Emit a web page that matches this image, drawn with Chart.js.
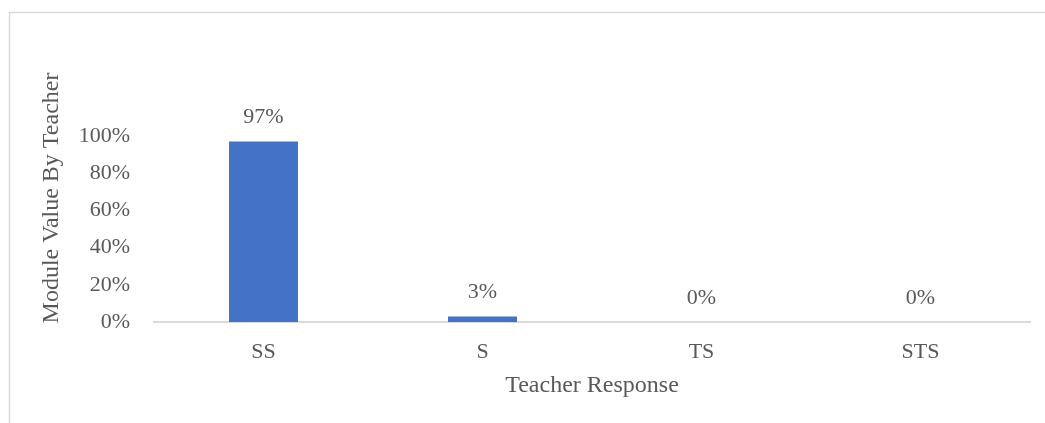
<!DOCTYPE html>
<html>
<head>
<meta charset="utf-8">
<script src="https://cdn.jsdelivr.net/npm/chart.js@4/dist/chart.umd.min.js"></script>
<style>
  html, body { margin: 0; padding: 0; background: #ffffff; }
  #wrap { width: 1045px; height: 423px; position: relative; }
</style>
</head>
<body>
<div id="wrap"><canvas id="c" width="1045" height="423"></canvas></div>
<script>
// Teacher responses and the share of each
const categories = ['SS', 'S', 'TS', 'STS'];
const shares = [0.97, 0.03, 0, 0];
const yTickValues = [0, 0.2, 0.4, 0.6, 0.8, 1.0];
const xAxisTitle = 'Teacher Response';
const yAxisTitle = 'Module Value By Teacher';

const FONT = "'Liberation Serif', 'Times New Roman', serif";
const TEXT = '#595959';
const LINE = '#d9d9d9';
const BAR = '#4472c4';

const pct = v => Math.round(v * 100) + '%';

// Frame lines, axis titles and value labels
const decorations = {
  id: 'decorations',
  beforeDraw(chart) {
    const ctx = chart.ctx;
    ctx.save();
    ctx.strokeStyle = LINE;
    ctx.lineWidth = 1.5;
    ctx.beginPath();
    ctx.moveTo(9, 12.5);
    ctx.lineTo(chart.width, 12.5);
    ctx.moveTo(9.5, 12);
    ctx.lineTo(9.5, chart.height);
    ctx.stroke();
    ctx.restore();
  },
  afterDatasetsDraw(chart) {
    const ctx = chart.ctx;
    const area = chart.chartArea;
    ctx.save();
    ctx.fillStyle = TEXT;
    ctx.textAlign = 'center';
    ctx.textBaseline = 'middle';

    // value labels above each bar
    ctx.font = '22px ' + FONT;
    const meta = chart.getDatasetMeta(0);
    meta.data.forEach((bar, i) => {
      ctx.fillText(pct(shares[i]), bar.x, bar.y - 24);
    });

    // axis titles
    ctx.font = '24px ' + FONT;
    ctx.fillText(xAxisTitle, (area.left + area.right) / 2, 386);
    ctx.translate(52, 198);
    ctx.rotate(-Math.PI / 2);
    ctx.fillText(yAxisTitle, 0, 0);
    ctx.restore();
  }
};

new Chart(document.getElementById('c'), {
  type: 'bar',
  data: {
    labels: categories,
    datasets: [{
      data: shares,
      backgroundColor: BAR,
      borderWidth: 0,
      categoryPercentage: 1,
      barPercentage: 0.315
    }]
  },
  options: {
    responsive: false,
    animation: false,
    layout: { padding: { top: 136, right: 15, left: 0, bottom: 0 } },
    plugins: { legend: { display: false }, tooltip: { enabled: false } },
    scales: {
      x: {
        grid: { display: false, drawTicks: false },
        border: { display: true, color: LINE, width: 2 },
        ticks: { color: TEXT, font: { family: FONT, size: 22 }, padding: 17 },
        afterFit(scale) { scale.height = 101; }
      },
      y: {
        min: 0,
        max: 1,
        afterBuildTicks(scale) { scale.ticks = yTickValues.map(v => ({ value: v })); },
        grid: { display: false, drawTicks: false },
        border: { display: false },
        ticks: {
          color: TEXT,
          font: { family: FONT, size: 22 },
          padding: 24,
          callback: v => pct(v)
        },
        afterFit(scale) { scale.width = 154; }
      }
    }
  },
  plugins: [decorations]
});
</script>
</body>
</html>
